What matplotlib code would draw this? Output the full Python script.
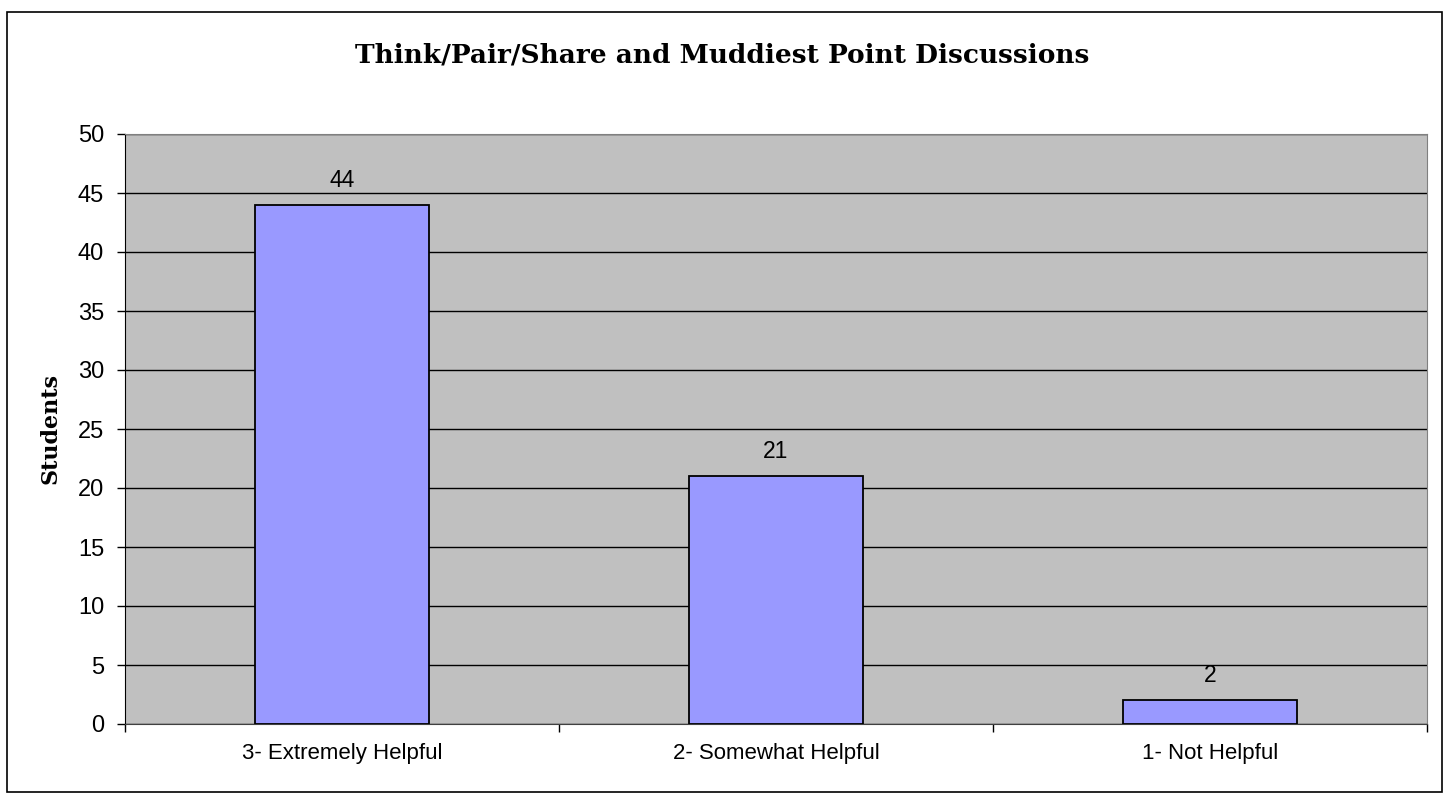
import numpy as np
import matplotlib
matplotlib.use('Agg')
import matplotlib.pyplot as plt
from matplotlib.patches import Rectangle

categories = ['3- Extremely Helpful', '2- Somewhat Helpful', '1- Not Helpful']
students = [44, 21, 2]
y_ticks = [0, 5, 10, 15, 20, 25, 30, 35, 40, 45, 50]

plt.rcParams['font.family'] = ['Liberation Sans', 'DejaVu Sans']

W, H = 1445, 797
fig = plt.figure(figsize=(W / 100, H / 100), dpi=100)
ax = fig.add_axes([125 / W, 1 - 724 / H, (1427 - 125) / W, (724 - 134) / H])

# outer chart frame
fig.patches.append(Rectangle((7 / W, 1 - 792 / H), (1442 - 7) / W, (792 - 12) / H,
                             transform=fig.transFigure, fill=False,
                             edgecolor='black', linewidth=1.2))

ax.set_facecolor('#C0C0C0')
x = np.arange(len(categories))
bars = ax.bar(x, students, width=0.4, color='#9999FF', edgecolor='black',
              linewidth=1.3, zorder=3)
for xi, v in zip(x, students):
    ax.text(xi, v + 1.1, str(v), ha='center', va='bottom', fontsize=16.5)

ax.set_xlim(-0.5, len(categories) - 0.5)
ax.set_ylim(0, 50)
ax.set_yticks(y_ticks)
ax.tick_params(axis='y', labelsize=17, length=6, width=1, pad=9)
ax.yaxis.grid(True, color='black', linewidth=1, zorder=1)
ax.set_axisbelow(True)

ax.set_xticks(x)
ax.set_xticklabels(categories, fontsize=16)
ax.tick_params(axis='x', length=0, pad=14)
ax.set_xticks(np.arange(-0.5, len(categories)), minor=True)
ax.tick_params(axis='x', which='minor', length=6, width=1)

for side in ['top', 'right']:
    ax.spines[side].set_color('#808080')
ax.spines['bottom'].set_color('#404040')
ax.spines['left'].set_color('black')

ax.set_ylabel('Students', fontsize=16, fontweight='bold', family='DejaVu Serif', labelpad=12)
fig.text(0.5, 1 - 55 / H, 'Think/Pair/Share and Muddiest Point Discussions',
         ha='center', va='center', fontsize=19, fontweight='bold', family='DejaVu Serif')

fig.savefig('out.png', dpi=100)
